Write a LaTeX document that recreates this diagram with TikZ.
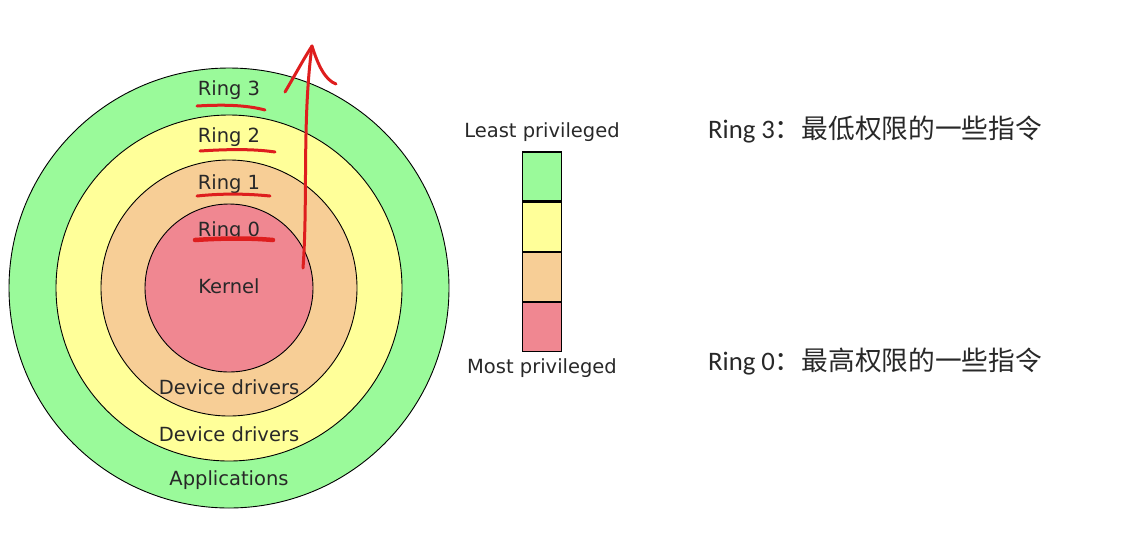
\documentclass[tikz,border=0pt]{standalone}
\usepackage{fontspec}
\usepackage{tikz}
\usetikzlibrary{positioning, calc}
\newfontfamily\dejavu{DejaVu Sans}
\newfontfamily\carlito{Carlito}
\newfontfamily\cjk{Noto Sans CJK SC}
\definecolor{RingGreen}{RGB}{154,250,154}
\definecolor{RingYellow}{RGB}{255,255,153}
\definecolor{RingOrange}{RGB}{247,206,150}
\definecolor{RingRed}{RGB}{240,135,145}
\definecolor{InkRed}{RGB}{222,30,30}
\definecolor{TextDark}{RGB}{40,40,40}

\tikzset{
  ringtext/.style={font=\dejavu\fontsize{19.5}{22}\selectfont, text=TextDark, inner sep=0pt},
  legendbox/.style={draw=black, line width=1.1pt, minimum width=39pt, minimum height=49pt, inner sep=0pt},
  notetext/.style={font=\fontsize{26.7}{30}\selectfont, text=TextDark, anchor=west, inner sep=0pt},
  inkstroke/.style={draw=InkRed, line width=3pt, line cap=round, line join=round}
}

\begin{document}
\begin{tikzpicture}[x=1pt, y=-1pt]
  \useasboundingbox (0,0) rectangle (1148,542);
  % rings, outer to inner
  \coordinate (c) at (229,288);
  \filldraw[fill=RingGreen,  draw=black, line width=0.9pt] (c) circle[radius=220];
  \filldraw[fill=RingYellow, draw=black, line width=0.9pt] (c) circle[radius=173];
  \filldraw[fill=RingOrange, draw=black, line width=0.9pt] (c) circle[radius=128];
  \filldraw[fill=RingRed,    draw=black, line width=0.9pt] (c) circle[radius=84];

  \node[ringtext] (r3) at (229,90)  {Ring 3};
  \node[ringtext] (r2) at (229,137) {Ring 2};
  \node[ringtext] (r1) at (229,184) {Ring 1};
  \node[ringtext] (r0) at (229,231) {Ring 0};
  \node[ringtext] (kernel) at (229,286) {Kernel};
  \node[ringtext] (drv1) at (229,387) {Device drivers};
  \node[ringtext] (drv2) at (229,434) {Device drivers};
  \node[ringtext] (apps) at (229,480) {Applications};

  % legend bar
  \node[legendbox, fill=RingGreen] (l3) at (542,176.5) {};
  \node[legendbox, fill=RingYellow, below=0pt of l3] (l2) {};
  \node[legendbox, fill=RingOrange, below=0pt of l2] (l1) {};
  \node[legendbox, fill=RingRed,    below=0pt of l1] (l0) {};
  \node[ringtext, above=10pt of l3] (least) {Least privileged};
  \node[ringtext, below=7pt of l0] (most) {Most privileged};

  % notes
  \node[notetext] (n3) at (708,130) {{\carlito Ring 3}{\cjk ：最低权限的一些指令}};
  \node[notetext] (n0) at (708,362) {{\carlito Ring 0}{\cjk ：最高权限的一些指令}};

  % red ink
  \draw[inkstroke] (197,106) .. controls (230,104) and (250,106) .. (265,110);
  \draw[inkstroke] (200,151) .. controls (230,149) and (255,149) .. (275,152);
  \draw[inkstroke] (197,196) .. controls (225,193) and (250,194) .. (270,196);
  \draw[inkstroke, line width=4.5pt] (195,240) .. controls (225,238) and (250,238) .. (273,240);
  \coordinate (tip) at (312,46);
  \draw[inkstroke] (303,268) .. controls (308,200) and (302,120) .. (tip);
  \draw[inkstroke] (285,92) .. controls (295,75) and (303,60) .. (tip)
                   .. controls (318,65) and (325,80) .. (336,84);
\end{tikzpicture}
\end{document}
